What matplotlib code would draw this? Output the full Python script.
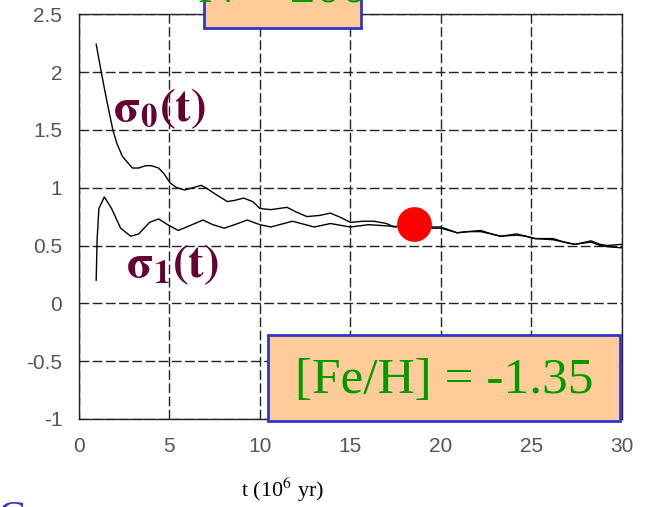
import numpy as np
import matplotlib.pyplot as plt
from matplotlib.patches import Rectangle

# sigma_0(t)
t0 = [0.95, 1.23, 1.5, 1.87, 2.1, 2.4, 2.95, 3.3, 3.68, 4.0, 4.4, 4.7, 5.04, 5.4,
      5.85, 6.3, 6.76, 7.1, 7.48, 8.2, 8.6, 9.1, 9.6, 10.0, 10.6, 11.5, 12.0, 12.6,
      13.3, 13.9, 14.5, 15.0, 15.7, 16.3, 17.0, 17.4, 18.0, 18.5, 19.2, 20.0, 20.9,
      21.5, 22.2, 22.8, 23.3, 24.2, 24.7, 25.2, 26.2, 26.8, 27.4, 28.3, 28.8, 29.2, 30.0]
s0 = [2.24, 2.0, 1.78, 1.5, 1.38, 1.27, 1.17, 1.17, 1.19, 1.19, 1.17, 1.12, 1.04, 1.0,
      0.98, 1.0, 1.02, 0.99, 0.95, 0.88, 0.89, 0.91, 0.88, 0.82, 0.81, 0.83, 0.79, 0.75,
      0.76, 0.78, 0.74, 0.70, 0.71, 0.71, 0.69, 0.66, 0.67, 0.68, 0.66, 0.66, 0.61,
      0.62, 0.63, 0.60, 0.58, 0.60, 0.58, 0.56, 0.56, 0.53, 0.51, 0.54, 0.51, 0.50, 0.51]

# sigma_1(t)
t1 = [0.95, 1.0, 1.1, 1.4, 1.8, 2.3, 2.86, 3.3, 3.9, 4.4, 4.9, 5.49, 6.1, 6.85, 7.4,
      8.03, 8.6, 9.3, 10.0, 10.6, 11.8, 13.0, 13.9, 15.0, 16.0, 17.0, 18.0, 18.5,
      19.2, 20.0, 20.9, 21.5, 22.2, 22.8, 23.3, 24.2, 24.7, 25.2, 26.2, 26.8, 27.4,
      28.3, 28.8, 29.2, 30.0]
s1 = [0.20, 0.55, 0.82, 0.92, 0.82, 0.65, 0.58, 0.60, 0.70, 0.73, 0.68, 0.63, 0.67,
      0.72, 0.68, 0.65, 0.68, 0.72, 0.68, 0.66, 0.71, 0.66, 0.69, 0.66, 0.68, 0.67,
      0.66, 0.67, 0.65, 0.65, 0.61, 0.62, 0.62, 0.60, 0.58, 0.59, 0.58, 0.56, 0.55,
      0.53, 0.51, 0.53, 0.50, 0.49, 0.48]

dot_t, dot_s = 18.5, 0.69
xticks = [0, 5, 10, 15, 20, 25, 30]
yticks = [-1, -0.5, 0, 0.5, 1, 1.5, 2, 2.5]
ylabels = ['-1', '-0.5', '0', '0.5', '1', '1.5', '2', '2.5']

plt.rcParams['mathtext.fontset'] = 'stix'
fig = plt.figure(figsize=(6.47, 5.07), dpi=100)
ax = fig.add_axes([0.1221, 0.1736, 0.8389, 0.7984])

ax.plot(t0, s0, color='black', lw=1.0)
ax.plot(t1, s1, color='black', lw=1.0)
ax.plot(dot_t, dot_s, 'o', color='#ff0000', ms=24, zorder=5)

ax.set_xlim(0, 30)
ax.set_ylim(-1, 2.5)
ax.set_xticks(xticks)
ax.set_yticks(yticks)
ax.set_xticklabels([str(v) for v in xticks])
ax.set_yticklabels(ylabels)
ax.tick_params(length=0, labelsize=15, labelcolor='#555555')
ax.tick_params(axis='x', pad=13)
ax.tick_params(axis='y', pad=12)
for lab in ax.get_xticklabels() + ax.get_yticklabels():
    lab.set_family('Liberation Sans')
ax.grid(True, color='#222222', lw=1.0, linestyle=(0, (7, 2.5)))
for sp in ax.spines.values():
    sp.set_linewidth(1.0)
    sp.set_color('#222222')

lab_col = '#660033'
ax.text(1.9, 1.68, r'$\mathbf{\sigma_0(t)}$', fontsize=34, color=lab_col, ha='left', va='center')
ax.text(2.6, 0.33, r'$\mathbf{\sigma_1(t)}$', fontsize=34, color=lab_col, ha='left', va='center')

fig.text(0.436, 0.034, r't (10$^6$ yr)', fontsize=16, family='Liberation Serif',
         ha='center', va='center')

# orange boxes
box_fc, box_ec, txt_col = '#ffcc99', '#3333cc', '#009900'
fig.patches.append(Rectangle((204 / 647, 1 - 28 / 507), 157 / 647, 0.2, transform=fig.transFigure,
                             fc=box_fc, ec=box_ec, lw=2, zorder=10))
fig.text(0.436, 0.997, 'N = 200', fontsize=37, family='Liberation Serif', color=txt_col,
         ha='center', va='baseline', zorder=11)
fig.patches.append(Rectangle((268 / 647, 1 - 421 / 507), 352 / 647, 86 / 507, transform=fig.transFigure,
                             fc=box_fc, ec=box_ec, lw=2, zorder=10))
fig.text(0.686, 0.25, '[Fe/H] = -1.35', fontsize=37, family='Liberation Serif', color=txt_col,
         ha='center', va='center', zorder=11)

fig.text(-0.005, -0.045, 'C', fontsize=30, family='Liberation Serif', color='#3333cc')

fig.savefig('out.png', dpi=100)
